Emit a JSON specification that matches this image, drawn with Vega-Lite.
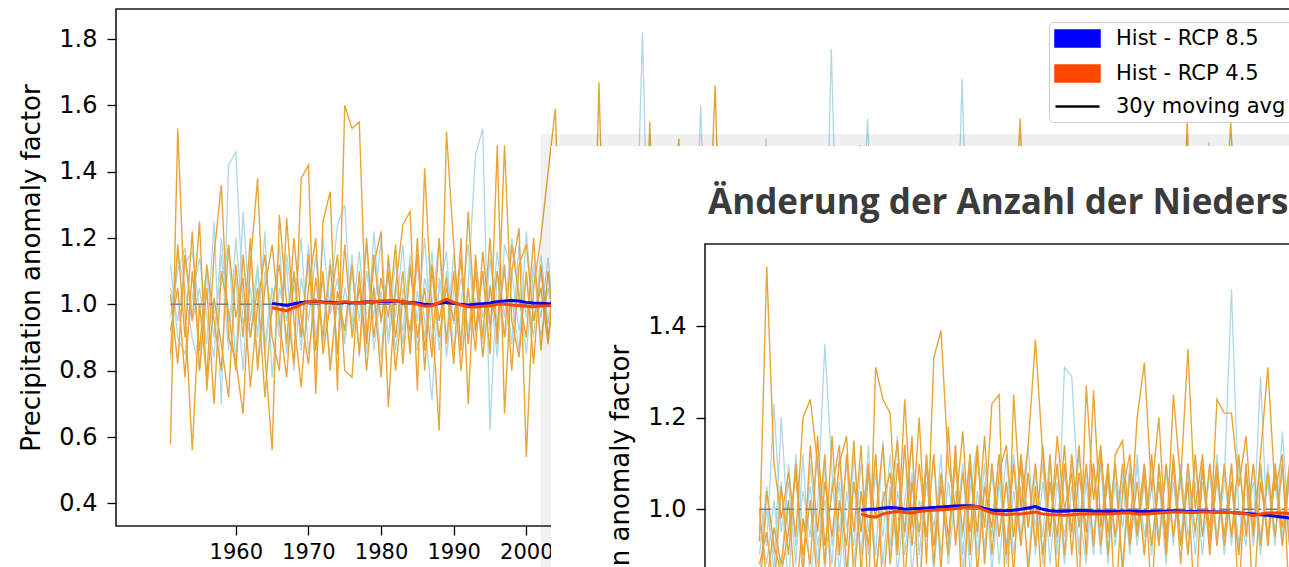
{
"$schema": "https://vega.github.io/schema/vega-lite/v6.json",
"background": "white",
"padding": {"left": 18, "top": 8, "right": 0, "bottom": 0},
"config": {
  "font": "DejaVu Sans",
  "view": {"stroke": "#1a1a1a", "strokeWidth": 1.6},
  "axis": {"labelFont": "DejaVu Sans", "titleFont": "DejaVu Sans", "labelColor": "#000000", "titleColor": "#000000", "tickColor": "#000000", "tickWidth": 1.3, "tickSize": 9, "domain": false, "grid": false, "titleFontWeight": "normal", "labelFlush": false}
},
"datasets": {
"one": [{"t": 1951, "v": 1}, {"t": 2100, "v": 1}],
"frame": [{"t": 1943.5, "t2": 2107.5, "v": 0.3317, "v2": 1.8906}],
"shadow": [{"t": 2002.0, "t2": 2125, "v": 1.5136, "v2": 0}],
"panel": [{"t": 2003.4, "t2": 2125, "v": 1.4774, "v2": 0}],
"c1": [
{"t":1951,"a":0.96,"b":1.12,"c":0.83,"d":1.05,"e":0.58,"f":0.92,"g":1.03,"h":0.85},
{"t":1952,"a":1.1,"b":0.9,"c":1.15,"d":0.95,"e":1.53,"f":1.05,"g":0.82,"h":1.18},
{"t":1953,"a":1.17,"b":0.85,"c":1.05,"d":1.12,"e":0.98,"f":0.78,"g":1.15,"h":0.9},
{"t":1954,"a":0.95,"b":1.02,"c":0.9,"d":1.16,"e":0.56,"f":1.1,"g":0.95,"h":1.22},
{"t":1955,"a":1.05,"b":1.14,"c":0.8,"d":0.98,"e":1.0,"f":0.86,"g":1.25,"h":0.8},
{"t":1956,"a":0.88,"b":0.96,"c":1.1,"d":1.09,"e":0.78,"f":1.12,"g":0.74,"h":1.05},
{"t":1957,"a":1.25,"b":0.84,"c":0.97,"d":0.9,"e":1.15,"f":0.95,"g":1.02,"h":0.7},
{"t":1958,"a":0.7,"b":1.2,"c":1.06,"d":1.15,"e":1.36,"f":0.8,"g":0.88,"h":1.1},
{"t":1959,"a":1.42,"b":0.95,"c":1.18,"d":0.86,"e":0.9,"f":1.18,"g":0.72,"h":0.98},
{"t":1960,"a":1.46,"b":1.08,"c":0.82,"d":1.2,"e":0.83,"f":0.96,"g":1.12,"h":0.8},
{"t":1961,"a":1.0,"b":0.8,"c":1.28,"d":0.94,"e":0.67,"f":1.08,"g":0.9,"h":1.15},
{"t":1962,"a":0.9,"b":1.15,"c":0.95,"d":1.05,"e":1.12,"f":0.75,"g":1.2,"h":0.9},
{"t":1963,"a":1.1,"b":0.9,"c":1.12,"d":0.82,"e":1.38,"f":1.0,"g":0.8,"h":1.05},
{"t":1964,"a":0.85,"b":1.22,"c":0.88,"d":1.1,"e":0.85,"f":1.15,"g":1.05,"h":0.72},
{"t":1965,"a":1.05,"b":0.78,"c":1.05,"d":0.97,"e":0.56,"f":0.9,"g":1.18,"h":1.0,"m":1.003,"r":0.99},
{"t":1966,"a":0.93,"b":1.05,"c":0.9,"d":1.18,"e":1.27,"f":0.8,"g":0.95,"h":1.12,"m":1.0,"r":0.985},
{"t":1967,"a":1.12,"b":0.95,"c":1.15,"d":0.85,"e":1.0,"f":1.26,"g":0.78,"h":0.88,"m":0.997,"r":0.981},
{"t":1968,"a":0.8,"b":1.1,"c":0.98,"d":1.06,"e":0.82,"f":0.95,"g":1.1,"h":1.2,"m":1.002,"r":0.99},
{"t":1969,"a":1.08,"b":0.86,"c":1.2,"d":0.92,"e":1.38,"f":0.75,"g":0.9,"h":0.96,"m":1.006,"r":1.0},
{"t":1970,"a":0.95,"b":1.18,"c":0.85,"d":1.12,"e":1.42,"f":1.05,"g":1.15,"h":0.82,"m":1.008,"r":1.008},
{"t":1971,"a":1.15,"b":0.9,"c":1.02,"d":0.8,"e":0.73,"f":1.2,"g":0.86,"h":1.08,"m":1.009,"r":1.01},
{"t":1972,"a":0.88,"b":1.08,"c":0.92,"d":1.2,"e":1.25,"f":0.85,"g":1.1,"h":0.9,"m":1.007,"r":1.006},
{"t":1973,"a":1.02,"b":0.82,"c":1.14,"d":0.97,"e":1.34,"f":1.0,"g":0.8,"h":1.12,"m":1.006,"r":1.004},
{"t":1974,"a":1.24,"b":1.0,"c":0.86,"d":1.08,"e":0.74,"f":1.15,"g":1.04,"h":0.85,"m":1.005,"r":1.005},
{"t":1975,"a":1.3,"b":0.9,"c":1.05,"d":0.88,"e":1.6,"f":0.8,"g":0.92,"h":1.18,"m":1.006,"r":1.008},
{"t":1976,"a":0.92,"b":1.15,"c":0.94,"d":1.1,"e":1.53,"f":0.78,"g":1.12,"h":0.9,"m":1.004,"r":1.006},
{"t":1977,"a":1.08,"b":0.84,"c":1.16,"d":0.95,"e":1.55,"f":1.1,"g":0.85,"h":1.05,"m":1.006,"r":1.004},
{"t":1978,"a":0.85,"b":1.1,"c":0.9,"d":1.18,"e":0.9,"f":0.8,"g":1.2,"h":0.88,"m":1.008,"r":1.007},
{"t":1979,"a":1.22,"b":0.96,"c":1.06,"d":0.86,"e":1.12,"f":1.05,"g":0.9,"h":1.15,"m":1.007,"r":1.008},
{"t":1980,"a":0.94,"b":1.2,"c":0.84,"d":1.04,"e":1.22,"f":0.78,"g":1.08,"h":0.95,"m":1.009,"r":1.01},
{"t":1981,"a":1.1,"b":0.88,"c":1.12,"d":0.9,"e":0.69,"f":1.15,"g":0.96,"h":1.1,"m":1.008,"r":1.012},
{"t":1982,"a":0.86,"b":1.06,"c":0.96,"d":1.14,"e":1.05,"f":0.9,"g":1.18,"h":0.8,"m":1.01,"r":1.01},
{"t":1983,"a":1.05,"b":0.92,"c":1.18,"d":0.88,"e":1.24,"f":1.1,"g":0.82,"h":1.02,"m":1.007,"r":1.008},
{"t":1984,"a":0.9,"b":1.15,"c":0.88,"d":1.1,"e":1.28,"f":0.85,"g":1.12,"h":0.92,"m":1.006,"r":1.005},
{"t":1985,"a":1.12,"b":0.86,"c":1.04,"d":0.95,"e":0.74,"f":1.2,"g":0.9,"h":1.15,"m":1.004,"r":1.0},
{"t":1986,"a":0.95,"b":1.08,"c":0.9,"d":1.2,"e":1.41,"f":0.8,"g":1.05,"h":0.86,"m":1.0,"r":0.994},
{"t":1987,"a":0.71,"b":0.98,"c":1.16,"d":0.88,"e":0.98,"f":1.12,"g":0.84,"h":1.1,"m":0.998,"r":0.996},
{"t":1988,"a":1.08,"b":1.2,"c":0.86,"d":1.04,"e":0.62,"f":0.95,"g":1.2,"h":0.9,"m":1.003,"r":1.005},
{"t":1989,"a":0.9,"b":0.84,"c":1.1,"d":1.16,"e":1.52,"f":1.08,"g":0.88,"h":1.05,"m":1.006,"r":1.016},
{"t":1990,"a":1.15,"b":1.04,"c":0.94,"d":0.86,"e":1.18,"f":0.82,"g":1.1,"h":0.95,"m":1.003,"r":1.006},
{"t":1991,"a":0.88,"b":1.12,"c":1.08,"d":1.0,"e":0.86,"f":1.2,"g":0.8,"h":1.14,"m":1.0,"r":0.998},
{"t":1992,"a":1.06,"b":0.9,"c":0.92,"d":1.18,"e":1.28,"f":0.7,"g":1.05,"h":0.88,"m":0.998,"r":0.993},
{"t":1993,"a":1.45,"b":1.02,"c":1.12,"d":0.9,"e":0.92,"f":1.15,"g":0.86,"h":1.1,"m":1.0,"r":0.992},
{"t":1994,"a":1.53,"b":0.88,"c":0.96,"d":1.1,"e":1.1,"f":0.9,"g":1.16,"h":0.84,"m":1.002,"r":0.994},
{"t":1995,"a":0.62,"b":1.14,"c":1.06,"d":0.92,"e":0.85,"f":1.2,"g":0.94,"h":1.05,"m":1.004,"r":0.996},
{"t":1996,"a":1.1,"b":0.94,"c":0.84,"d":1.16,"e":1.48,"f":0.88,"g":1.1,"h":0.92,"m":1.008,"r":1.0},
{"t":1997,"a":0.9,"b":1.1,"c":1.18,"d":0.96,"e":0.67,"f":1.48,"g":0.9,"h":1.12,"m":1.01,"r":1.0},
{"t":1998,"a":1.02,"b":0.88,"c":1.1,"d":1.2,"e":1.1,"f":0.95,"g":1.18,"h":0.8,"m":1.012,"r":0.998},
{"t":1999,"a":0.86,"b":1.18,"c":0.92,"d":1.04,"e":1.23,"f":0.84,"g":1.02,"h":1.12,"m":1.01,"r":0.996},
{"t":2000,"a":1.22,"b":0.96,"c":1.08,"d":0.85,"e":0.54,"f":1.1,"g":0.9,"h":1.18,"m":1.006,"r":0.994},
{"t":2001,"a":0.95,"b":1.12,"c":0.9,"d":1.1,"e":1.05,"f":0.82,"g":1.2,"h":0.95,"m":1.004,"r":0.993},
{"t":2002,"a":1.1,"b":0.9,"c":1.15,"d":0.96,"e":1.2,"f":1.12,"g":0.86,"h":1.05,"m":1.003,"r":0.995},
{"t":2003,"a":0.9,"b":1.05,"c":0.94,"d":1.14,"e":1.4,"f":0.9,"g":1.1,"h":0.88,"m":1.002,"r":0.996},
{"t":2004,"a":1.08,"b":0.92,"c":1.1,"d":0.9,"e":1.59,"f":1.05,"g":0.88,"h":1.12,"m":1.002,"r":0.997},
{"t":2005,"a":1.12,"b":0.86,"c":0.95,"d":1.2,"e":0.82,"f":1.15,"g":1.05,"h":0.9},
{"t":2006,"a":0.9,"b":1.1,"c":1.18,"d":0.88,"e":1.25,"f":0.8,"g":0.94,"h":1.12},
{"t":2007,"a":1.05,"b":0.95,"c":0.84,"d":1.08,"e":0.92,"f":1.2,"g":1.16,"h":0.78},
{"t":2008,"a":0.82,"b":1.2,"c":1.05,"d":0.94,"e":1.1,"f":0.9,"g":0.8,"h":1.24},
{"t":2009,"a":1.15,"b":0.88,"c":1.12,"d":1.16,"e":0.76,"f":1.3,"g":1.1,"h":0.96},
{"t":2010,"a":0.96,"b":1.05,"c":0.9,"d":0.85,"e":1.67,"f":0.95,"g":0.88,"h":1.1},
{"t":2011,"a":1.1,"b":0.92,"c":1.2,"d":1.05,"e":0.85,"f":1.12,"g":1.25,"h":0.82},
{"t":2012,"a":0.88,"b":1.15,"c":0.96,"d":0.92,"e":1.2,"f":0.78,"g":0.95,"h":1.18},
{"t":2013,"a":1.2,"b":0.84,"c":1.08,"d":1.14,"e":0.9,"f":1.05,"g":0.8,"h":1.02},
{"t":2014,"a":0.94,"b":1.1,"c":0.86,"d":0.98,"e":1.15,"f":0.92,"g":1.18,"h":0.85},
{"t":2015,"a":1.05,"b":0.96,"c":1.15,"d":0.88,"e":0.82,"f":1.2,"g":0.92,"h":1.3},
{"t":2016,"a":1.82,"b":1.08,"c":0.92,"d":1.1,"e":1.08,"f":0.85,"g":1.1,"h":0.94},
{"t":2017,"a":0.9,"b":0.86,"c":1.05,"d":0.95,"e":0.92,"f":1.55,"g":0.86,"h":1.12},
{"t":2018,"a":1.12,"b":1.2,"c":0.88,"d":1.18,"e":1.22,"f":0.9,"g":1.04,"h":0.8},
{"t":2019,"a":0.96,"b":0.94,"c":1.1,"d":0.9,"e":0.8,"f":1.1,"g":0.92,"h":1.15},
{"t":2020,"a":1.08,"b":1.05,"c":0.94,"d":1.06,"e":1.14,"f":0.96,"g":1.2,"h":0.9},
{"t":2021,"a":0.85,"b":0.9,"c":1.16,"d":0.86,"e":0.94,"f":1.22,"g":1.5,"h":1.05},
{"t":2022,"a":1.15,"b":1.12,"c":0.9,"d":1.12,"e":1.06,"f":0.84,"g":0.95,"h":0.92},
{"t":2023,"a":0.92,"b":0.88,"c":1.05,"d":0.94,"e":1.2,"f":1.05,"g":1.12,"h":1.18},
{"t":2024,"a":1.06,"b":1.6,"c":0.88,"d":1.1,"e":0.88,"f":0.92,"g":0.85,"h":0.96},
{"t":2025,"a":0.94,"b":0.96,"c":1.12,"d":0.92,"e":1.1,"f":1.16,"g":1.08,"h":1.1},
{"t":2026,"a":1.1,"b":1.08,"c":0.95,"d":1.15,"e":0.95,"f":0.88,"g":0.92,"h":1.66},
{"t":2027,"a":0.88,"b":0.92,"c":1.18,"d":0.9,"e":1.25,"f":1.1,"g":1.2,"h":0.9},
{"t":2028,"a":1.2,"b":1.1,"c":0.86,"d":1.06,"e":0.84,"f":0.94,"g":0.9,"h":1.12},
{"t":2029,"a":0.95,"b":0.86,"c":1.05,"d":0.96,"e":1.12,"f":1.2,"g":1.06,"h":0.85},
{"t":2030,"a":1.08,"b":1.15,"c":0.92,"d":1.2,"e":0.9,"f":0.86,"g":0.82,"h":1.2},
{"t":2031,"a":0.9,"b":0.94,"c":1.16,"d":0.88,"e":1.3,"f":1.05,"g":1.15,"h":0.94},
{"t":2032,"a":1.14,"b":1.06,"c":0.88,"d":1.1,"e":0.96,"f":0.9,"g":0.94,"h":1.08},
{"t":2033,"a":0.86,"b":0.9,"c":1.5,"d":0.94,"e":1.1,"f":1.22,"g":1.1,"h":0.88},
{"t":2034,"a":1.05,"b":1.2,"c":0.92,"d":1.05,"e":0.85,"f":0.96,"g":0.86,"h":1.25},
{"t":2035,"a":0.94,"b":0.88,"c":1.08,"d":0.9,"e":1.18,"f":1.1,"g":1.2,"h":0.92},
{"t":2036,"a":1.16,"b":1.04,"c":0.9,"d":1.14,"e":0.92,"f":0.84,"g":0.95,"h":1.1},
{"t":2037,"a":0.9,"b":0.92,"c":1.12,"d":0.96,"e":1.06,"f":1.15,"g":1.08,"h":0.86},
{"t":2038,"a":1.06,"b":1.14,"c":0.95,"d":1.08,"e":0.82,"f":0.92,"g":0.9,"h":1.15},
{"t":2039,"a":0.92,"b":0.86,"c":1.1,"d":0.88,"e":1.24,"f":1.06,"g":1.16,"h":0.95},
{"t":2040,"a":1.12,"b":1.08,"c":0.88,"d":1.16,"e":0.96,"f":0.88,"g":0.84,"h":1.1},
{"t":2041,"a":0.88,"b":0.95,"c":1.14,"d":0.94,"e":1.1,"f":1.2,"g":1.12,"h":0.9},
{"t":2042,"a":1.77,"b":1.12,"c":0.9,"d":1.06,"e":0.88,"f":0.94,"g":0.92,"h":1.18},
{"t":2043,"a":0.94,"b":0.88,"c":1.06,"d":0.9,"e":1.16,"f":1.08,"g":1.06,"h":0.94},
{"t":2044,"a":1.1,"b":1.16,"c":0.94,"d":1.12,"e":0.92,"f":0.9,"g":0.88,"h":1.06},
{"t":2045,"a":0.86,"b":0.92,"c":1.12,"d":0.95,"e":1.2,"f":1.14,"g":1.18,"h":0.9},
{"t":2046,"a":1.05,"b":1.06,"c":0.9,"d":1.1,"e":1.48,"f":0.86,"g":0.94,"h":1.12},
{"t":2047,"a":0.95,"b":0.9,"c":1.08,"d":1.56,"e":0.9,"f":1.1,"g":1.05,"h":0.88},
{"t":2048,"a":1.14,"b":1.12,"c":0.94,"d":0.92,"e":1.12,"f":0.94,"g":0.9,"h":1.16},
{"t":2049,"a":0.9,"b":0.94,"c":1.15,"d":1.06,"e":0.86,"f":1.18,"g":1.12,"h":0.94},
{"t":2050,"a":1.06,"b":1.1,"c":0.88,"d":0.9,"e":1.15,"f":0.9,"g":0.86,"h":1.1},
{"t":2051,"a":0.92,"b":0.86,"c":1.06,"d":1.14,"e":0.94,"f":1.12,"g":1.2,"h":0.88},
{"t":2052,"a":1.16,"b":1.08,"c":0.94,"d":0.94,"e":1.2,"f":0.96,"g":0.92,"h":1.14},
{"t":2053,"a":0.88,"b":0.95,"c":1.12,"d":1.08,"e":0.9,"f":1.05,"g":1.1,"h":0.92},
{"t":2054,"a":1.08,"b":1.14,"c":0.9,"d":0.9,"e":1.1,"f":0.86,"g":0.88,"h":1.2},
{"t":2055,"a":0.94,"b":0.88,"c":1.1,"d":1.12,"e":0.84,"f":1.16,"g":1.15,"h":0.9},
{"t":2056,"a":1.12,"b":1.06,"c":0.92,"d":0.94,"e":1.18,"f":0.92,"g":0.94,"h":1.08},
{"t":2057,"a":0.9,"b":0.92,"c":1.14,"d":1.06,"e":0.96,"f":1.1,"g":1.06,"h":0.94},
{"t":2058,"a":1.05,"b":1.12,"c":0.88,"d":0.92,"e":1.12,"f":0.94,"g":0.9,"h":1.16},
{"t":2059,"a":0.94,"b":0.9,"c":1.06,"d":1.1,"e":0.9,"f":1.2,"g":1.14,"h":0.88},
{"t":2060,"a":1.1,"b":1.68,"c":0.92,"d":0.96,"e":1.06,"f":0.9,"g":0.88,"h":1.1},
{"t":2061,"a":0.88,"b":0.94,"c":1.12,"d":1.08,"e":0.92,"f":1.1,"g":1.18,"h":0.94},
{"t":2062,"a":1.14,"b":1.08,"c":0.94,"d":0.9,"e":1.16,"f":0.92,"g":0.94,"h":1.12},
{"t":2063,"a":0.92,"b":0.9,"c":1.08,"d":1.12,"e":0.88,"f":1.14,"g":1.1,"h":0.9},
{"t":2064,"a":1.06,"b":1.12,"c":0.9,"d":0.94,"e":1.1,"f":0.96,"g":0.88,"h":1.16},
{"t":2065,"a":0.9,"b":0.94,"c":1.14,"d":1.06,"e":0.94,"f":1.08,"g":1.16,"h":0.92},
{"t":2066,"a":1.12,"b":1.06,"c":0.92,"d":0.92,"e":1.2,"f":0.9,"g":0.92,"h":1.1},
{"t":2067,"a":0.94,"b":0.88,"c":1.06,"d":1.1,"e":0.9,"f":1.12,"g":1.08,"h":0.94},
{"t":2068,"a":1.08,"b":1.12,"c":0.9,"d":0.94,"e":1.12,"f":1.56,"g":0.9,"h":1.12},
{"t":2069,"a":0.9,"b":0.94,"c":1.12,"d":1.08,"e":0.94,"f":0.96,"g":1.14,"h":0.9},
{"t":2070,"a":1.14,"b":1.08,"c":0.94,"d":0.9,"e":1.16,"f":1.1,"g":0.92,"h":1.14},
{"t":2071,"a":0.92,"b":0.9,"c":1.1,"d":1.12,"e":0.88,"f":0.94,"g":1.1,"h":0.92},
{"t":2072,"a":1.06,"b":1.14,"c":0.92,"d":0.94,"e":1.12,"f":1.12,"g":0.88,"h":1.1},
{"t":2073,"a":0.9,"b":0.92,"c":1.14,"d":1.06,"e":0.92,"f":0.9,"g":1.16,"h":0.94},
{"t":2074,"a":1.12,"b":1.06,"c":0.9,"d":0.92,"e":1.18,"f":1.1,"g":0.94,"h":1.16},
{"t":2075,"a":0.94,"b":0.9,"c":1.08,"d":1.1,"e":0.9,"f":0.94,"g":1.08,"h":0.9},
{"t":2076,"a":1.08,"b":1.12,"c":0.94,"d":0.94,"e":1.1,"f":1.14,"g":0.9,"h":1.12},
{"t":2077,"a":0.9,"b":0.94,"c":1.12,"d":1.08,"e":0.94,"f":0.9,"g":1.14,"h":0.94},
{"t":2078,"a":1.14,"b":1.06,"c":0.9,"d":0.9,"e":1.16,"f":1.12,"g":0.92,"h":1.1},
{"t":2079,"a":0.92,"b":0.9,"c":1.1,"d":1.12,"e":0.9,"f":0.94,"g":1.1,"h":0.92},
{"t":2080,"a":1.06,"b":1.14,"c":0.92,"d":0.94,"e":1.12,"f":1.1,"g":0.88,"h":1.16},
{"t":2081,"a":0.9,"b":0.92,"c":1.14,"d":1.06,"e":0.92,"f":0.92,"g":1.16,"h":0.94},
{"t":2082,"a":1.12,"b":1.08,"c":0.9,"d":0.92,"e":1.18,"f":1.1,"g":0.94,"h":1.1},
{"t":2083,"a":0.94,"b":0.9,"c":1.08,"d":1.1,"e":0.9,"f":0.94,"g":1.08,"h":0.9},
{"t":2084,"a":1.08,"b":1.12,"c":0.94,"d":0.94,"e":1.1,"f":1.14,"g":0.9,"h":1.14},
{"t":2085,"a":0.9,"b":0.94,"c":1.12,"d":1.08,"e":0.94,"f":0.9,"g":1.14,"h":0.94},
{"t":2086,"a":1.14,"b":1.06,"c":0.9,"d":0.9,"e":1.16,"f":1.12,"g":0.92,"h":1.1},
{"t":2087,"a":0.92,"b":0.9,"c":1.1,"d":1.12,"e":0.9,"f":0.94,"g":1.1,"h":0.92},
{"t":2088,"a":1.06,"b":1.14,"c":0.92,"d":0.94,"e":1.12,"f":1.1,"g":0.88,"h":1.16},
{"t":2089,"a":0.9,"b":0.92,"c":1.14,"d":1.06,"e":0.92,"f":0.92,"g":1.16,"h":0.94},
{"t":2090,"a":1.12,"b":1.08,"c":0.9,"d":0.92,"e":1.18,"f":1.1,"g":0.94,"h":1.1},
{"t":2091,"a":0.94,"b":0.9,"c":1.08,"d":1.1,"e":0.9,"f":0.94,"g":1.55,"h":0.9},
{"t":2092,"a":1.08,"b":1.12,"c":0.94,"d":0.94,"e":1.1,"f":1.14,"g":0.9,"h":1.14},
{"t":2093,"a":0.9,"b":0.94,"c":1.12,"d":1.08,"e":0.94,"f":0.9,"g":1.14,"h":0.94},
{"t":2094,"a":1.14,"b":1.06,"c":1.49,"d":0.9,"e":1.16,"f":1.12,"g":0.92,"h":1.1},
{"t":2095,"a":0.92,"b":0.9,"c":1.1,"d":1.12,"e":0.9,"f":0.94,"g":1.1,"h":0.92},
{"t":2096,"a":1.06,"b":1.14,"c":0.92,"d":0.94,"e":1.12,"f":1.1,"g":0.88,"h":1.16},
{"t":2097,"a":0.9,"b":0.92,"c":1.14,"d":1.06,"e":0.92,"f":0.92,"g":1.16,"h":1.55},
{"t":2098,"a":1.12,"b":1.08,"c":0.9,"d":0.92,"e":1.18,"f":1.1,"g":0.94,"h":1.1},
{"t":2099,"a":0.94,"b":0.9,"c":1.08,"d":1.1,"e":0.9,"f":0.94,"g":1.08,"h":0.9},
{"t":2100,"a":1.08,"b":1.12,"c":0.94,"d":0.94,"e":1.1,"f":1.14,"g":0.9,"h":1.14}
],
"c2": [
{"t":1951,"a":1.03,"b":0.9,"c":0.97,"d":0.85,"e":0.93,"f":0.88,"g":1.0,"h":0.8},
{"t":1952,"a":0.92,"b":1.05,"c":0.88,"d":1.0,"e":1.53,"f":0.95,"g":0.84,"h":1.04},
{"t":1953,"a":1.23,"b":0.86,"c":1.02,"d":0.9,"e":1.1,"f":0.82,"g":0.96,"h":0.92},
{"t":1954,"a":0.95,"b":1.2,"c":0.85,"d":1.06,"e":0.98,"f":1.05,"g":0.88,"h":0.86},
{"t":1955,"a":1.06,"b":0.94,"c":1.1,"d":0.82,"e":1.08,"f":0.9,"g":1.02,"h":0.95},
{"t":1956,"a":0.88,"b":1.08,"c":0.92,"d":1.12,"e":0.94,"f":1.1,"g":0.8,"h":1.08},
{"t":1957,"a":1.12,"b":0.85,"c":1.04,"d":0.95,"e":1.2,"f":0.86,"g":0.98,"h":0.9},
{"t":1958,"a":0.84,"b":1.1,"c":0.94,"d":1.05,"e":1.24,"f":1.14,"g":0.88,"h":1.02},
{"t":1959,"a":1.0,"b":0.92,"c":1.12,"d":0.88,"e":1.1,"f":0.95,"g":1.16,"h":0.84},
{"t":1960,"a":1.36,"b":1.02,"c":0.86,"d":1.1,"e":0.88,"f":1.12,"g":0.92,"h":1.06},
{"t":1961,"a":1.08,"b":0.88,"c":1.06,"d":0.92,"e":1.16,"f":0.78,"g":1.04,"h":0.94},
{"t":1962,"a":0.86,"b":1.12,"c":0.95,"d":1.06,"e":0.9,"f":1.02,"g":1.14,"h":1.1},
{"t":1963,"a":1.04,"b":0.96,"c":1.1,"d":0.8,"e":1.12,"f":0.92,"g":0.86,"h":1.16},
{"t":1964,"a":0.92,"b":1.06,"c":0.88,"d":1.12,"e":0.95,"f":1.15,"g":1.06,"h":0.84},
{"t":1965,"a":1.1,"b":0.9,"c":1.04,"d":0.96,"e":1.14,"f":0.86,"g":0.95,"h":1.04,"m":0.998,"r":0.99},
{"t":1966,"a":0.95,"b":1.14,"c":0.9,"d":1.08,"e":0.8,"f":1.08,"g":1.1,"h":0.92,"m":1.0,"r":0.985},
{"t":1967,"a":1.12,"b":0.84,"c":1.08,"d":0.9,"e":1.31,"f":0.98,"g":0.85,"h":1.12,"m":1.0,"r":0.983},
{"t":1968,"a":0.88,"b":1.04,"c":0.94,"d":1.15,"e":1.24,"f":1.14,"g":1.02,"h":0.82,"m":1.003,"r":0.99},
{"t":1969,"a":1.05,"b":0.92,"c":1.12,"d":0.88,"e":1.21,"f":0.88,"g":1.08,"h":1.02,"m":1.004,"r":0.993},
{"t":1970,"a":0.92,"b":1.16,"c":0.86,"d":1.04,"e":0.92,"f":1.1,"g":0.9,"h":1.15,"m":1.003,"r":0.995},
{"t":1971,"a":1.14,"b":0.9,"c":1.02,"d":0.94,"e":1.24,"f":0.95,"g":1.14,"h":0.84,"m":1.0,"r":0.993},
{"t":1972,"a":0.86,"b":1.06,"c":1.14,"d":1.08,"e":0.96,"f":1.16,"g":0.92,"h":1.06,"m":1.001,"r":0.992},
{"t":1973,"a":1.02,"b":0.94,"c":0.9,"d":0.82,"e":1.2,"f":0.78,"g":1.1,"h":0.95,"m":1.002,"r":0.995},
{"t":1974,"a":0.94,"b":1.12,"c":1.06,"d":1.1,"e":0.88,"f":1.12,"g":0.94,"h":1.1,"m":1.003,"r":0.997},
{"t":1975,"a":1.12,"b":0.86,"c":0.92,"d":0.96,"e":1.33,"f":0.92,"g":1.12,"h":0.88,"m":1.004,"r":0.998},
{"t":1976,"a":0.9,"b":1.06,"c":1.12,"d":1.06,"e":1.39,"f":1.05,"g":0.86,"h":1.08,"m":1.005,"r":0.999},
{"t":1977,"a":1.06,"b":0.92,"c":0.88,"d":0.9,"e":1.1,"f":0.9,"g":1.18,"h":0.94,"m":1.006,"r":1.0},
{"t":1978,"a":0.94,"b":1.14,"c":1.04,"d":1.12,"e":1.0,"f":1.14,"g":0.92,"h":1.1,"m":1.007,"r":1.002},
{"t":1979,"a":1.1,"b":0.9,"c":0.94,"d":0.86,"e":1.17,"f":0.76,"g":1.08,"h":0.95,"m":1.008,"r":1.004},
{"t":1980,"a":0.86,"b":1.08,"c":1.12,"d":1.04,"e":0.9,"f":1.1,"g":0.95,"h":1.12,"m":1.008,"r":1.005},
{"t":1981,"a":1.04,"b":0.94,"c":0.9,"d":1.14,"e":1.12,"f":0.95,"g":1.14,"h":0.86,"m":1.006,"r":1.006},
{"t":1982,"a":0.92,"b":1.1,"c":1.06,"d":0.9,"e":0.96,"f":1.16,"g":0.88,"h":1.05,"m":1.002,"r":0.998},
{"t":1983,"a":1.08,"b":0.86,"c":0.94,"d":1.1,"e":1.23,"f":0.9,"g":1.1,"h":0.96,"m":0.998,"r":0.992},
{"t":1984,"a":0.94,"b":1.06,"c":1.12,"d":0.88,"e":1.25,"f":1.08,"g":0.94,"h":1.12,"m":0.997,"r":0.99},
{"t":1985,"a":1.12,"b":0.92,"c":0.88,"d":1.06,"e":0.74,"f":1.14,"g":1.06,"h":0.9,"m":0.997,"r":0.988},
{"t":1986,"a":0.9,"b":1.12,"c":1.04,"d":0.94,"e":1.25,"f":0.94,"g":0.86,"h":1.1,"m":0.998,"r":0.99},
{"t":1987,"a":1.05,"b":0.94,"c":0.92,"d":1.12,"e":1.0,"f":1.1,"g":1.12,"h":0.92,"m":1.0,"r":0.99},
{"t":1988,"a":0.88,"b":1.08,"c":1.14,"d":0.96,"e":1.14,"f":0.86,"g":0.96,"h":1.08,"m":1.003,"r":0.992},
{"t":1989,"a":1.08,"b":0.96,"c":0.9,"d":1.1,"e":1.37,"f":1.05,"g":1.1,"h":0.92,"m":1.006,"r":0.994},
{"t":1990,"a":0.94,"b":1.1,"c":1.06,"d":0.88,"e":1.12,"f":0.8,"g":0.9,"h":1.14,"m":1.0,"r":0.99},
{"t":1991,"a":1.12,"b":0.88,"c":0.94,"d":1.06,"e":0.94,"f":1.12,"g":1.06,"h":0.95,"m":0.997,"r":0.988},
{"t":1992,"a":0.9,"b":1.06,"c":1.1,"d":0.92,"e":1.16,"f":0.84,"g":0.94,"h":1.1,"m":0.996,"r":0.988},
{"t":1993,"a":1.31,"b":0.94,"c":0.88,"d":1.08,"e":1.0,"f":1.1,"g":1.14,"h":0.9,"m":0.996,"r":0.987},
{"t":1994,"a":1.29,"b":1.1,"c":1.05,"d":0.94,"e":1.08,"f":0.95,"g":0.9,"h":1.12,"m":0.997,"r":0.988},
{"t":1995,"a":1.0,"b":0.9,"c":0.92,"d":1.12,"e":0.82,"f":1.14,"g":1.08,"h":0.96,"m":0.998,"r":0.99},
{"t":1996,"a":0.88,"b":1.08,"c":1.06,"d":0.96,"e":1.27,"f":0.9,"g":0.95,"h":1.1,"m":0.997,"r":0.99},
{"t":1997,"a":1.1,"b":0.94,"c":0.9,"d":1.08,"e":1.02,"f":1.26,"g":1.1,"h":0.92,"m":0.996,"r":0.99},
{"t":1998,"a":0.94,"b":1.1,"c":1.12,"d":0.9,"e":1.14,"f":0.96,"g":0.92,"h":1.12,"m":0.996,"r":0.99},
{"t":1999,"a":1.06,"b":0.88,"c":0.94,"d":1.1,"e":0.9,"f":1.1,"g":1.08,"h":0.95,"m":0.995,"r":0.99},
{"t":2000,"a":0.92,"b":1.1,"c":1.06,"d":0.94,"e":1.12,"f":0.78,"g":0.94,"h":1.1,"m":0.995,"r":0.991},
{"t":2001,"a":1.08,"b":0.96,"c":0.88,"d":1.06,"e":1.15,"f":1.04,"g":1.1,"h":0.86,"m":0.996,"r":0.992},
{"t":2002,"a":0.9,"b":1.08,"c":1.1,"d":0.92,"e":0.94,"f":1.12,"g":0.92,"h":1.08,"m":0.996,"r":0.992},
{"t":2003,"a":1.1,"b":0.92,"c":0.94,"d":1.12,"e":1.2,"f":0.94,"g":1.06,"h":0.96,"m":0.995,"r":0.99},
{"t":2004,"a":0.94,"b":1.06,"c":1.1,"d":0.9,"e":1.32,"f":1.08,"g":0.9,"h":1.1,"m":0.995,"r":0.99},
{"t":2005,"a":1.05,"b":0.9,"c":0.92,"d":1.1,"e":1.04,"f":0.8,"g":1.12,"h":0.92,"m":0.995,"r":0.991},
{"t":2006,"a":0.92,"b":1.1,"c":1.06,"d":0.94,"e":1.2,"f":1.1,"g":0.92,"h":1.06,"m":0.996,"r":0.992},
{"t":2007,"a":1.1,"b":0.94,"c":0.88,"d":1.08,"e":0.92,"f":0.9,"g":1.1,"h":0.95,"m":0.996,"r":0.993},
{"t":2008,"a":0.94,"b":1.06,"c":1.1,"d":0.92,"e":1.25,"f":1.12,"g":0.94,"h":1.1,"m":0.997,"r":0.994},
{"t":2009,"a":1.06,"b":0.92,"c":0.94,"d":1.1,"e":1.06,"f":0.92,"g":1.08,"h":0.88,"m":0.996,"r":0.994},
{"t":2010,"a":0.9,"b":1.1,"c":1.08,"d":0.94,"e":1.35,"f":1.06,"g":0.9,"h":1.1,"m":0.995,"r":0.993},
{"t":2011,"a":1.1,"b":0.94,"c":0.9,"d":1.06,"e":1.0,"f":0.76,"g":1.12,"h":0.95,"m":0.995,"r":0.993},
{"t":2012,"a":0.94,"b":1.1,"c":1.06,"d":0.9,"e":1.12,"f":1.1,"g":0.94,"h":1.08,"m":0.995,"r":0.994},
{"t":2013,"a":1.08,"b":0.92,"c":0.94,"d":1.1,"e":0.92,"f":0.9,"g":1.1,"h":0.96,"m":0.995,"r":0.994},
{"t":2014,"a":0.92,"b":1.06,"c":1.12,"d":0.94,"e":1.24,"f":1.08,"g":0.92,"h":1.1,"m":0.994,"r":0.993},
{"t":2015,"a":1.06,"b":0.94,"c":0.9,"d":1.08,"e":1.21,"f":0.94,"g":1.1,"h":0.92,"m":0.994,"r":0.993},
{"t":2016,"a":1.48,"b":1.1,"c":1.06,"d":0.92,"e":1.21,"f":1.1,"g":0.94,"h":1.06,"m":0.993,"r":0.993},
{"t":2017,"a":1.0,"b":0.92,"c":0.9,"d":1.1,"e":1.05,"f":0.8,"g":1.12,"h":0.9,"m":0.992,"r":0.992},
{"t":2018,"a":0.92,"b":1.08,"c":1.1,"d":0.96,"e":1.16,"f":1.1,"g":0.94,"h":1.08,"m":0.991,"r":0.99},
{"t":2019,"a":1.1,"b":0.94,"c":0.92,"d":1.06,"e":0.94,"f":0.78,"g":1.1,"h":0.96,"m":0.99,"r":0.986},
{"t":2020,"a":0.94,"b":1.29,"c":1.08,"d":0.9,"e":1.12,"f":1.06,"g":0.92,"h":1.1,"m":0.988,"r":0.99},
{"t":2021,"a":1.06,"b":0.92,"c":0.94,"d":1.1,"e":1.31,"f":0.94,"g":1.08,"h":0.92,"m":0.987,"r":0.992},
{"t":2022,"a":0.92,"b":1.1,"c":1.06,"d":0.94,"e":1.04,"f":1.1,"g":0.94,"h":1.08,"m":0.985,"r":0.992},
{"t":2023,"a":1.17,"b":0.94,"c":0.92,"d":1.08,"e":1.12,"f":0.92,"g":1.1,"h":0.96,"m":0.983,"r":0.992},
{"t":2024,"a":0.94,"b":1.06,"c":1.1,"d":0.92,"e":0.78,"f":1.08,"g":0.92,"h":1.1,"m":0.981,"r":0.991},
{"t":2025,"a":1.08,"b":0.92,"c":0.94,"d":1.1,"e":1.1,"f":0.94,"g":1.06,"h":0.92,"m":0.98,"r":0.99},
{"t":2026,"a":0.92,"b":1.1,"c":1.06,"d":0.94,"e":1.02,"f":1.1,"g":0.94,"h":1.08,"m":0.98,"r":0.99}
]
},
"bounds": "flush",
"spacing": 0,
"hconcat": [
{
  "width": 589, "height": 517,
  "view": {"stroke": null},
  "encoding": {
    "x": {"field": "t", "type": "quantitative", "scale": {"domain": [1943.5, 2107.5], "range": [0, 1191], "nice": false, "zero": false},
          "axis": {"values": [1960,1970,1980,1990,2000,2010,2020,2030,2040,2050,2060,2070,2080,2090,2100], "format": "d", "labelFontSize": 21, "labelPadding": 6, "title": null}},
    "y": {"field": "v", "type": "quantitative", "scale": {"domain": [0.3317, 1.8906], "nice": false, "zero": false},
          "axis": {"values": [0.4,0.6,0.8,1.0,1.2,1.4,1.6,1.8], "format": ".1f", "labelFontSize": 24, "labelPadding": 10, "title": "Precipitation anomaly factor", "titleFontSize": 26, "titlePadding": 14}}
  },
  "layer": [
    {"data": {"name": "c1"}, "transform": [{"fold": ["a","b","c","d"], "as": ["k","v"]}],
     "mark": {"type": "line", "color": "#add8e6", "strokeWidth": 1.3},
     "encoding": {"detail": {"field": "k", "type": "nominal"}}},
    {"data": {"name": "c1"}, "transform": [{"fold": ["e","f","g","h"], "as": ["k","v"]}],
     "mark": {"type": "line", "color": "#e9a434", "strokeWidth": 1.4},
     "encoding": {"detail": {"field": "k", "type": "nominal"}}},
    {"data": {"name": "one"}, "mark": {"type": "line", "color": "#808080", "strokeWidth": 1.5, "strokeDash": [12,4,3,4]}, "encoding": {}},
    {"data": {"name": "c1"}, "transform": [{"fold": ["m","r"], "as": ["k","v"]}, {"filter": "isValid(datum.v)"}],
     "mark": {"type": "line", "strokeWidth": 3},
     "encoding": {"color": {"field": "k", "type": "nominal",
        "scale": {"domain": ["m","r","z"], "range": ["#0000ff","#ff4500","#000000"]},
        "legend": {"orient": "none", "legendX": 933, "legendY": 13, "title": null, "padding": 5,
          "fillColor": "rgba(255,255,255,0.85)", "strokeColor": "#cccccc", "cornerRadius": 4,
          "labelFont": "DejaVu Sans", "labelFontSize": 21, "labelColor": "#000000", "labelLimit": 400,
          "symbolSize": 400, "labelOffset": 39, "rowPadding": 8,
          "labelExpr": "datum.value == 'm' ? 'Hist - RCP 8.5' : datum.value == 'r' ? 'Hist - RCP 4.5' : '30y moving avg'",
          "encode": {"symbols": {"update": {
            "shape": {"signal": "datum.value == 'z' ? 'M-1,0H3.4' : 'M-1,-0.8H3.4V0.8H-1Z'"},
            "fill": {"signal": "datum.value == 'm' ? '#0000ff' : datum.value == 'r' ? '#ff4500' : 'transparent'"},
            "stroke": {"signal": "datum.value == 'z' ? '#000000' : 'transparent'"},
            "strokeWidth": {"value": 2.5},
            "opacity": {"value": 1}}}}}}}},
    {"data": {"name": "frame"}, "mark": {"type": "rect", "filled": false, "stroke": "#1a1a1a", "strokeWidth": 1.6},
     "encoding": {"x2": {"field": "t2"}, "y2": {"field": "v2"}}},
    {"data": {"name": "shadow"}, "mark": {"type": "rect", "color": "#000000", "opacity": 0.06},
     "encoding": {"x2": {"field": "t2"}, "y2": {"field": "v2"}}},
    {"data": {"name": "panel"}, "mark": {"type": "rect", "color": "#ffffff", "opacity": 1},
     "encoding": {"x2": {"field": "t2"}, "y2": {"field": "v2"}}}
  ]
},
{
  "bounds": "flush",
  "spacing": 0,
  "vconcat": [
    {"width": 10, "height": 235, "view": {"stroke": null}, "data": {"values": [{"t": 0}]}, "mark": {"type": "point", "opacity": 0}},
    {
      "width": 1191, "height": 568,
      "view": {"fill": "#ffffff", "stroke": "#1a1a1a", "strokeWidth": 1.6},
      "title": {"text": "Änderung der Anzahl der Niederschlagstage", "anchor": "start", "frame": "group", "font": "Open Sans", "fontSize": 35, "fontWeight": "bold", "color": "#3b3b3b", "offset": -5, "baseline": "alphabetic", "dx": 3},
      "encoding": {
        "x": {"field": "t", "type": "quantitative", "scale": {"domain": [1943.5, 2107.5], "nice": false, "zero": false},
              "axis": {"values": [1960,1970,1980,1990,2000,2010,2020,2030,2040,2050,2060,2070,2080,2090,2100], "format": "d", "labelFontSize": 21, "labelPadding": 6, "title": null}},
        "y": {"field": "v", "type": "quantitative", "scale": {"domain": [0.3394, 1.579], "nice": false, "zero": false},
              "axis": {"values": [0.4,0.6,0.8,1.0,1.2,1.4], "format": ".1f", "labelFontSize": 24, "labelPadding": 10, "title": "Precipitation anomaly factor", "titleFontSize": 26, "titlePadding": 14}}
      },
      "layer": [
        {"data": {"name": "c2"}, "transform": [{"fold": ["a","b","c","d"], "as": ["k","v"]}],
         "mark": {"type": "line", "color": "#add8e6", "strokeWidth": 1.3, "clip": true},
         "encoding": {"detail": {"field": "k", "type": "nominal"}}},
        {"data": {"name": "c2"}, "transform": [{"fold": ["e","f","g","h"], "as": ["k","v"]}],
         "mark": {"type": "line", "color": "#e9a434", "strokeWidth": 1.4, "clip": true},
         "encoding": {"detail": {"field": "k", "type": "nominal"}}},
        {"data": {"name": "one"}, "mark": {"type": "line", "color": "#808080", "strokeWidth": 1.5, "strokeDash": [12,4,3,4], "clip": true}, "encoding": {}},
        {"data": {"name": "c2"}, "transform": [{"fold": ["m","r"], "as": ["k","v"]}, {"filter": "isValid(datum.v)"}],
         "mark": {"type": "line", "strokeWidth": 3, "clip": true},
         "encoding": {"color": {"field": "k", "type": "nominal", "scale": {"domain": ["m","r"], "range": ["#0000ff","#ff4500"]}, "legend": null}}}
      ]
    }
  ]
}
]
}
